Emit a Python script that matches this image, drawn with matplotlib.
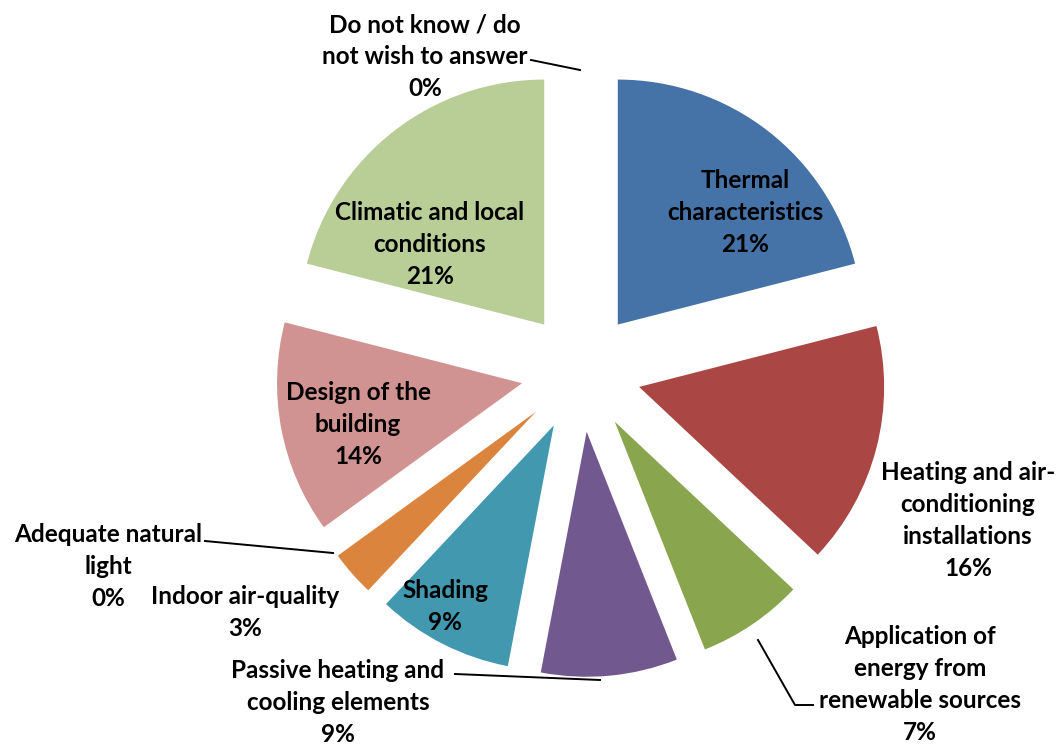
import matplotlib
matplotlib.use("Agg")
import matplotlib.pyplot as plt

# dados da pizza (sentido horario a partir do topo)
categorias = [
    "Thermal\ncharacteristics",
    "Heating and air-\nconditioning\ninstallations",
    "Application of\nenergy from\nrenewable sources",
    "Passive heating and\ncooling elements",
    "Shading",
    "Indoor air-quality",
    "Adequate natural\nlight",
    "Design of the\nbuilding",
    "Climatic and local\nconditions",
    "Do not know / do\nnot wish to answer",
]
percentuais = [21, 16, 7, 9, 9, 3, 0, 14, 21, 0]
cores = ["#4572A7", "#AA4643", "#89A54E", "#71588F", "#4198AF",
         "#DB843D", "#93A9CF", "#D19392", "#B9CD96", "#A99BBD"]

W, H = 1061, 744
CX, CY, R = 581, 372, 245
ENTRELINHA = 32  # px


def px(x, y):
    # pixel da imagem -> coordenadas do eixo
    return (x - CX) / R, (CY - y) / R


fig = plt.figure(figsize=(W / 100, H / 100), dpi=100)
ax = fig.add_axes([0, 0, 1, 1])
ax.pie(percentuais, explode=[0.245] * len(percentuais), colors=cores,
       startangle=90, counterclock=False, radius=1,
       wedgeprops=dict(linewidth=0))
ax.set_xlim(-CX / R, (W - CX) / R)
ax.set_ylim(-(H - CY) / R, CY / R)
ax.axis("off")

# posicao (centro x, y da primeira linha, em pixels) de cada rotulo
pos_rotulos = [(745, 180), (968, 473), (920, 636), (338, 670), (445, 591),
               (245, 597), (108, 535), (358, 393), (430, 212), (425, 25)]
# linhas de chamada em pixels
chamadas = {
    2: [(813, 705), (795, 705), (758, 640)],
    3: [(455, 674), (600, 680)],
    6: [(205, 541), (333, 553)],
    9: [(531, 60), (580, 70)],
}

fonte = dict(family=["Lato", "DejaVu Sans"], weight="bold", fontsize=17.5,
             color="black", ha="center", va="center")
for i, (nome, pct) in enumerate(zip(categorias, percentuais)):
    x0, y0 = pos_rotulos[i]
    linhas = nome.split("\n") + [f"{pct}%"]
    for k, linha in enumerate(linhas):
        x, y = px(x0, y0 + k * ENTRELINHA)
        ax.text(x, y, linha, **fonte)

for pts in chamadas.values():
    xs, ys = zip(*[px(a, b) for a, b in pts])
    ax.plot(xs, ys, color="black", lw=1.4)

fig.savefig("out.png", dpi=100, facecolor="white")
plt.close(fig)
